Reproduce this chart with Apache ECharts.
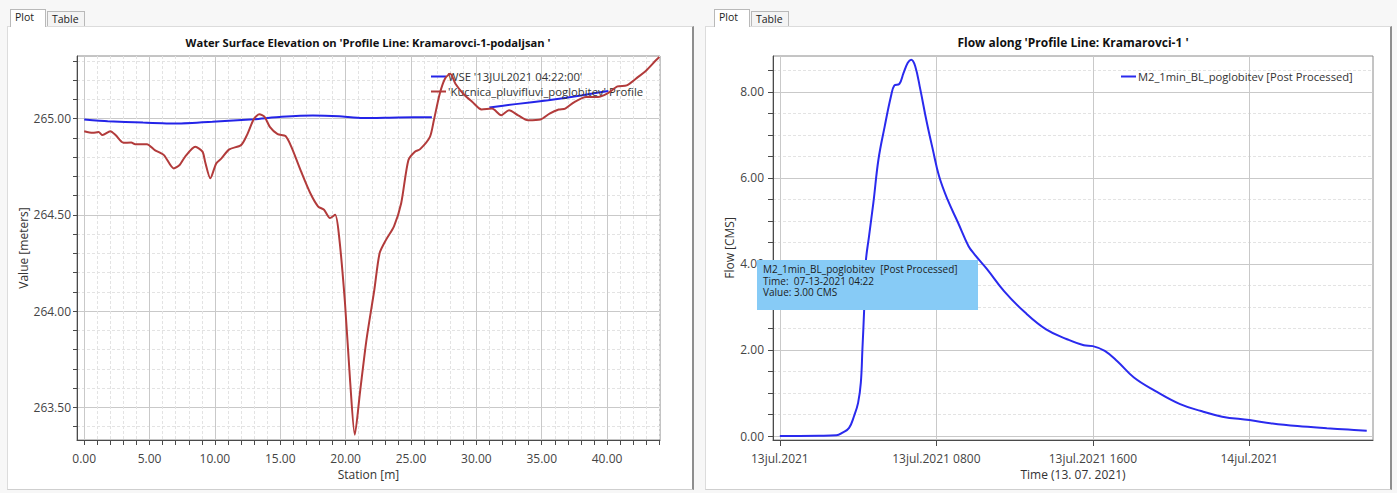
<!DOCTYPE html>
<html>
<head>
<meta charset="utf-8">
<script src="https://cdn.jsdelivr.net/npm/echarts@6/dist/echarts.min.js"></script>
<style>
  html, body { margin:0; padding:0; background:#f6f6f6; font-family:"Open Sans", "Noto Sans", sans-serif; }
  .abs { position:absolute; box-sizing:border-box; }
  .panel { background:#fff; border:1px solid #dcdcdc; border-right:2px solid #8e8e8e; border-bottom:1px solid #cfcfcf; }
  .tab { font-size:10.5px; color:#222; background:#fff; border:1px solid #b9b9b9; border-bottom:none; padding:1px 0 0 4px; line-height:13px; }
  .tab2 { background:#f4f4f4; }
</style>
</head>
<body>
<div class="abs" style="left:0;top:0;width:1397px;height:493px;background:#f7f7f7"></div>
<div class="abs panel" style="left:7px;top:26px;width:687px;height:464px"></div>
<div class="abs panel" style="left:705px;top:26px;width:687px;height:464px"></div>
<div class="abs tab" style="left:10px;top:9px;width:36px;height:18px">Plot</div>
<div class="abs tab tab2" style="left:47px;top:11px;width:38px;height:15px">Table</div>
<div class="abs tab" style="left:714px;top:9px;width:36px;height:18px">Plot</div>
<div class="abs tab tab2" style="left:751px;top:11px;width:38px;height:15px">Table</div>
<div id="chart" class="abs" style="left:0;top:0;width:1397px;height:493px"></div>
<script>
// ---------- Left chart data (Station [m] vs elevation [m]) ----------
const profileStation = [0,0.65,1.1,1.4,2.0,2.4,3.0,3.6,3.9,4.8,5.4,6.1,6.85,7.3,7.7,8.5,9.05,9.25,9.65,10.1,10.5,11.1,12.0,12.45,13.0,13.4,13.8,14.2,14.8,15.4,15.85,16.6,17.3,17.9,18.35,18.8,19.2,19.5,19.95,20.35,20.7,21.1,21.6,22.2,22.6,23.1,23.7,24.25,24.8,25.3,25.7,26.45,26.75,27.2,27.6,28.0,28.4,29.0,29.7,30.4,31.2,31.9,32.5,33.2,33.95,34.9,35.6,36.3,36.8,37.5,38.4,39.3,40.0,40.8,41.5,42.2,43.0,43.7,44.0];
const profileElev = [264.934,264.926,264.93,264.914,264.934,264.914,264.874,264.876,264.866,264.867,264.836,264.81,264.741,264.759,264.80,264.853,264.828,264.776,264.69,264.767,264.793,264.84,264.862,264.914,265.0,265.022,265.009,264.957,264.919,264.909,264.853,264.724,264.612,264.543,264.526,264.483,264.50,264.388,264.043,263.63,263.357,263.578,263.853,264.112,264.30,264.371,264.44,264.56,264.784,264.828,264.841,264.905,264.991,265.129,265.207,265.233,265.181,265.129,265.086,265.047,265.052,265.017,265.043,265.017,264.991,264.995,265.026,265.047,265.052,265.086,265.112,265.112,265.129,265.167,265.172,265.207,265.25,265.30,265.32];
const wseStation = [0,1.8,4.5,7.1,9.8,13.0,15.1,17.5,19.5,21.3,24.0,26.6,28.5,31.0,33.0,35.5,38.0,40.1];
const wseElev = [264.995,264.986,264.979,264.974,264.983,264.997,265.009,265.016,265.012,265.003,265.006,265.007,null,265.057,265.075,265.095,265.12,265.143];
const wseName = "WSE '13JUL2021 04:22:00'";
const profileName = "'Kucnica_pluvifluvi_poglobitev' Profile";
const leftTitle = "Water Surface Elevation on 'Profile Line: Kramarovci-1-podaljsan '";
const leftXMajorTicks = [0,5,10,15,20,25,30,35,40];
const leftXMinorTicks = [0,1,2,3,4,5,6,7,8,9,10,11,12,13,14,15,16,17,18,19,20,21,22,23,24,25,26,27,28,29,30,31,32,33,34,35,36,37,38,39,40,41,42,43,44];
const leftYMajorTicks = [263.5,264.0,264.5,265.0];
const leftYMinorTicks = [263.4,263.5,263.6,263.7,263.8,263.9,264.0,264.1,264.2,264.3,264.4,264.5,264.6,264.7,264.8,264.9,265.0,265.1,265.2,265.3];

// ---------- Right chart data (hours after 13 Jul 2021 00:00 vs flow CMS) ----------
const flowHours = [0,1.0,2.0,2.89,3.21,3.54,3.79,4.0,4.14,4.22,4.31,4.39,4.56,4.78,5.04,5.36,5.68,5.85,6.11,6.32,6.54,6.71,6.92,7.18,7.5,7.82,8.14,8.57,9.11,9.64,9.96,10.61,11.46,12.54,13.61,14.68,15.54,16.0,16.61,17.25,18.1,19.18,20.46,21.54,22.61,24.0,25.18,26.46,27.96,29.04,30.0];
const flowValues = [0,0,0.003,0.015,0.08,0.19,0.46,0.77,1.24,2.01,2.94,4.03,4.65,5.42,6.43,7.2,7.9,8.15,8.19,8.44,8.68,8.75,8.6,8.06,7.32,6.66,6.04,5.5,4.96,4.42,4.22,3.87,3.37,2.87,2.48,2.25,2.11,2.09,1.98,1.74,1.36,1.05,0.74,0.58,0.45,0.37,0.29,0.23,0.18,0.15,0.12];
const flowName = "M2_1min_BL_poglobitev [Post Processed]";
const rightTitle = "Flow along 'Profile Line: Kramarovci-1 '";
const rightXTickValues = [0,8,16,24];
const rightXTickLabels = ["13jul.2021","13jul.2021 0800","13jul.2021 1600","14jul.2021"];
const rightYMajorTicks = [0,2,4,6,8];
const rightYMinorTicks = [0,0.5,1,1.5,2,2.5,3,3.5,4,4.5,5,5.5,6,6.5,7,7.5,8,8.5];
const tipLines = ["M2_1min_BL_poglobitev  [Post Processed]", "Time:  07-13-2021 04:22", "Value: 3.00 CMS"];

const FONT = '"Open Sans", "Noto Sans", sans-serif';
const zip = (a, b) => a.map((v, i) => [v, b[i]]);
const axisCol = '#4a4a4a';
const labelStyle = { color:'#444', fontSize:12, fontFamily:FONT };
const minorSplit = { show:true, lineStyle:{ color:'#e3e3e3', type:[3,2], width:1 } };
const majorSplit = { show:true, lineStyle:{ color:'#c9c9c9', type:'solid', width:1 } };

const chart = echarts.init(document.getElementById('chart'), null, { renderer:'svg' });
chart.setOption({
  animation:false,
  backgroundColor:'transparent',
  textStyle:{ fontFamily:FONT },
  title:[
    { text:leftTitle, left:368, top:37, textAlign:'center', padding:0,
      textStyle:{ fontSize:11.2, fontWeight:'bold', color:'#111', fontFamily:FONT } },
    { text:rightTitle, left:1073, top:36, textAlign:'center', padding:0,
      textStyle:{ fontSize:12, fontWeight:'bold', color:'#111', fontFamily:FONT } }
  ],
  legend:[
    { data:[wseName, profileName], orient:'vertical', left:431, top:71, itemGap:4,
      icon:'rect', itemWidth:15, itemHeight:2, padding:0,
      textStyle:{ fontSize:11.3, color:'#333', fontFamily:FONT, padding:[0,0,0,-3] } },
    { data:[flowName], left:1121, top:71, icon:'rect', itemWidth:15, itemHeight:2, padding:0,
      textStyle:{ fontSize:11.2, color:'#333', fontFamily:FONT, padding:[0,0,0,-3] } }
  ],
  grid:[
    { left:77, top:56, width:583, height:384, show:true, borderColor:'#8a8a8a', borderWidth:1, backgroundColor:'transparent' },
    { left:773, top:56, width:600, height:384, show:true, borderColor:'#8a8a8a', borderWidth:1, backgroundColor:'transparent' }
  ],
  xAxis:[
    { gridIndex:0, type:'value', min:-0.55, max:44.05, position:'bottom',
      axisLine:{ show:true, onZero:false, lineStyle:{ color:axisCol } },
      axisTick:{ show:true, customValues:leftXMinorTicks, length:5, lineStyle:{ color:axisCol } },
      axisLabel:{ ...labelStyle, customValues:leftXMajorTicks, margin:12, formatter:v => v.toFixed(2) },
      splitLine:minorSplit,
      name:'Station [m]', nameLocation:'middle', nameGap:28,
      nameTextStyle:{ fontSize:12, color:'#333', fontFamily:FONT } },
    { gridIndex:0, type:'value', min:-0.55, max:44.05, position:'top',
      axisLine:{ show:false }, axisTick:{ show:false, customValues:leftXMajorTicks },
      axisLabel:{ show:false }, splitLine:majorSplit },
    { gridIndex:1, type:'value', min:-0.35, max:30.32, position:'bottom',
      axisLine:{ show:true, onZero:false, lineStyle:{ color:axisCol } },
      axisTick:{ show:true, customValues:rightXTickValues, length:6, lineStyle:{ color:axisCol } },
      axisLabel:{ ...labelStyle, customValues:rightXTickValues, margin:12,
        formatter:v => rightXTickLabels[rightXTickValues.indexOf(Math.round(v))] || '' },
      splitLine:majorSplit,
      name:'Time (13. 07. 2021)', nameLocation:'middle', nameGap:28,
      nameTextStyle:{ fontSize:12, color:'#333', fontFamily:FONT } }
  ],
  yAxis:[
    { gridIndex:0, type:'value', min:263.33, max:265.325, position:'left',
      axisLine:{ show:true, onZero:false, lineStyle:{ color:axisCol } },
      axisTick:{ show:true, customValues:leftYMinorTicks, length:4, lineStyle:{ color:axisCol } },
      axisLabel:{ ...labelStyle, customValues:leftYMajorTicks, margin:6, formatter:v => v.toFixed(2) },
      splitLine:minorSplit,
      name:'Value [meters]', nameLocation:'middle', nameGap:47, nameRotate:90,
      nameTextStyle:{ fontSize:12, color:'#333', fontFamily:FONT } },
    { gridIndex:0, type:'value', min:263.33, max:265.325, position:'right',
      axisLine:{ show:false }, axisTick:{ show:false, customValues:leftYMajorTicks },
      axisLabel:{ show:false }, splitLine:majorSplit },
    { gridIndex:1, type:'value', min:-0.093, max:8.837, position:'left',
      axisLine:{ show:true, onZero:false, lineStyle:{ color:axisCol } },
      axisTick:{ show:true, customValues:rightYMinorTicks, length:5, lineStyle:{ color:axisCol } },
      axisLabel:{ ...labelStyle, customValues:rightYMajorTicks, margin:9, formatter:v => v.toFixed(2) },
      splitLine:minorSplit,
      name:'Flow [CMS]', nameLocation:'middle', nameGap:38, nameRotate:90,
      nameTextStyle:{ fontSize:12, color:'#333', fontFamily:FONT } },
    { gridIndex:1, type:'value', min:-0.093, max:8.837, position:'right',
      axisLine:{ show:false }, axisTick:{ show:false, customValues:rightYMajorTicks },
      axisLabel:{ show:false }, splitLine:majorSplit }
  ],
  series:[
    { name:wseName, type:'line', xAxisIndex:0, yAxisIndex:0, data:zip(wseStation, wseElev),
      showSymbol:false, connectNulls:false, smooth:0.2, z:3,
      itemStyle:{ color:'#2424e8' }, lineStyle:{ color:'#2424e8', width:2 } },
    { name:profileName, type:'line', xAxisIndex:0, yAxisIndex:0, data:zip(profileStation, profileElev),
      showSymbol:false, smooth:0.25, z:4,
      itemStyle:{ color:'#b23b3b' }, lineStyle:{ color:'#b23b3b', width:2 } },
    { name:flowName, type:'line', xAxisIndex:2, yAxisIndex:2, data:zip(flowHours, flowValues),
      showSymbol:false, smooth:0.4, z:3,
      itemStyle:{ color:'#2a2aee' }, lineStyle:{ color:'#2a2aee', width:2 } }
  ],
  graphic:[
    { type:'group', z:100, children:[
      { type:'rect', shape:{ x:757, y:260, width:221, height:50 }, style:{ fill:'#87cbf6' }, z:100 },
      { type:'text', x:763, y:264, z:101,
        style:{ text:tipLines[0], fill:'#1d1d1d', font:'10px ' + FONT } },
      { type:'text', x:763, y:275.5, z:101,
        style:{ text:tipLines[1], fill:'#1d1d1d', font:'10px ' + FONT } },
      { type:'text', x:763, y:287, z:101,
        style:{ text:tipLines[2], fill:'#1d1d1d', font:'10px ' + FONT } }
    ]}
  ]
});
</script>
</body>
</html>
